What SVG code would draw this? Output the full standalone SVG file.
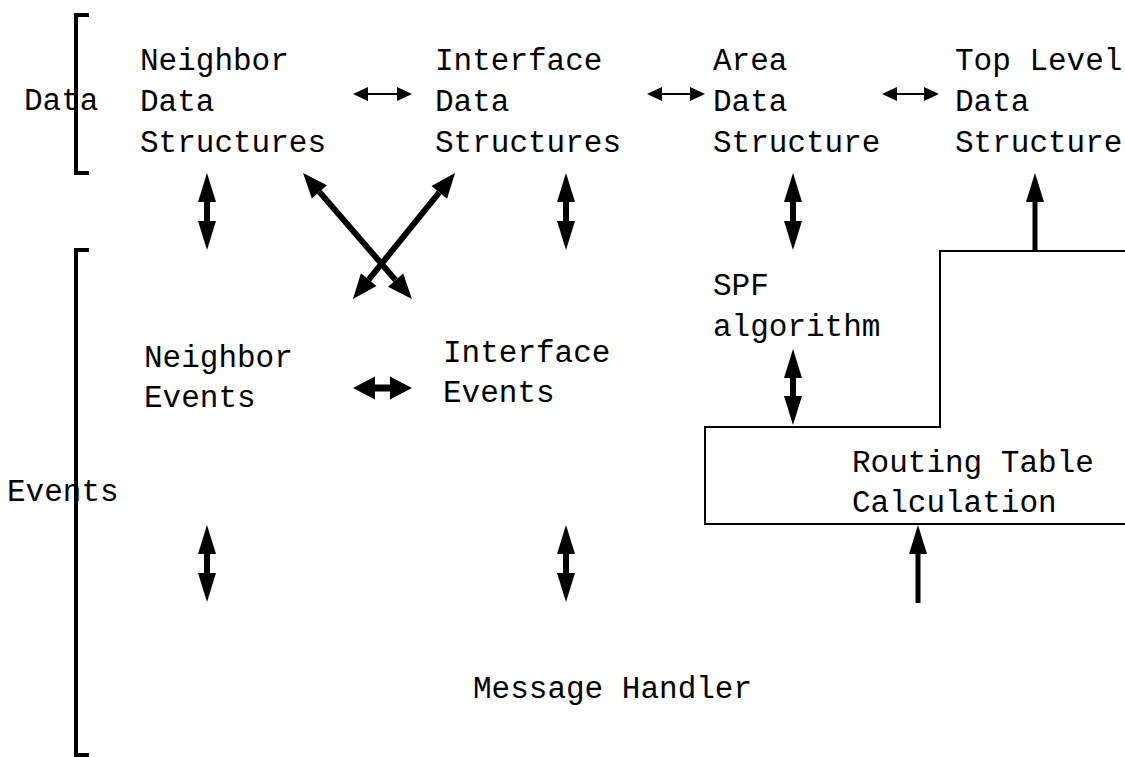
<svg xmlns="http://www.w3.org/2000/svg" width="1125" height="757" viewBox="0 0 1125 757">
  <style>
    text { font-family: "Liberation Mono", "DejaVu Sans Mono", monospace; font-size: 31px; fill: #000; }
    .bracket { fill: none; stroke: #000; stroke-width: 4; }
    .thin { stroke: #000; stroke-width: 2; marker-start: url(#headThin); marker-end: url(#headThin); }
    .thick { stroke: #000; stroke-width: 6; marker-start: url(#headBig); marker-end: url(#headBig); }
    .cross { stroke: #000; stroke-width: 6; marker-start: url(#headCross); marker-end: url(#headCross); }
    .mid { stroke: #000; stroke-width: 7; marker-start: url(#headMid); marker-end: url(#headMid); }
    .up { stroke: #000; stroke-width: 5; marker-end: url(#headBig); }
    .box { fill: none; stroke: #000; stroke-width: 2; }
  </style>
  <defs>
    <!-- arrowheads: base sits on the line end, tip points outward -->
    <marker id="headThin" markerUnits="userSpaceOnUse" markerWidth="16" markerHeight="14" refX="0" refY="7" orient="auto-start-reverse" overflow="visible">
      <path d="M0,0 L15,7 L0,14 Z" fill="#000"/>
    </marker>
    <marker id="headBig" markerUnits="userSpaceOnUse" markerWidth="30" markerHeight="18" refX="0" refY="9" orient="auto-start-reverse" overflow="visible">
      <path d="M0,0 L29,9 L0,18 Z" fill="#000"/>
    </marker>
    <marker id="headCross" markerUnits="userSpaceOnUse" markerWidth="26" markerHeight="20" refX="0" refY="10" orient="auto-start-reverse" overflow="visible">
      <path d="M0,0 L25,10 L0,20 Z" fill="#000"/>
    </marker>
    <marker id="headMid" markerUnits="userSpaceOnUse" markerWidth="23" markerHeight="23" refX="0" refY="11.5" orient="auto-start-reverse" overflow="visible">
      <path d="M0,0 L22,11.5 L0,23 Z" fill="#000"/>
    </marker>
  </defs>

  <!-- group brackets -->
  <g id="data-group">
    <path class="bracket" d="M89,15 H76 V173 H89"/>
    <text x="24" y="110">Data</text>
  </g>
  <g id="events-group">
    <path class="bracket" d="M89,250 H76 V755 H89"/>
    <text x="7" y="501">Events</text>
  </g>

  <!-- data structures -->
  <g id="neighbor-data">
    <text x="140" y="70">Neighbor</text>
    <text x="140" y="111">Data</text>
    <text x="140" y="152">Structures</text>
  </g>
  <g id="interface-data">
    <text x="435" y="70">Interface</text>
    <text x="435" y="111">Data</text>
    <text x="435" y="152">Structures</text>
  </g>
  <g id="area-data">
    <text x="713" y="70">Area</text>
    <text x="713" y="111">Data</text>
    <text x="713" y="152">Structure</text>
  </g>
  <g id="top-level-data">
    <text x="955" y="70">Top Level</text>
    <text x="955" y="111">Data</text>
    <text x="955" y="152">Structure</text>
  </g>

  <!-- processing -->
  <g id="spf">
    <text x="713" y="295">SPF</text>
    <text x="713" y="336">algorithm</text>
  </g>
  <g id="routing-table">
    <path class="box" d="M1127,251 H940 V427 H705 V524 H1127"/>
    <text x="852" y="472">Routing Table</text>
    <text x="852" y="512">Calculation</text>
  </g>
  <g id="neighbor-events">
    <text x="144" y="367">Neighbor</text>
    <text x="144" y="407">Events</text>
  </g>
  <g id="interface-events">
    <text x="443" y="362">Interface</text>
    <text x="443" y="402">Events</text>
  </g>
  <g id="message-handler">
    <text x="473" y="698">Message Handler</text>
  </g>

  <!-- connectors -->
  <g id="connectors">
    <line class="thin" x1="368" y1="94" x2="397" y2="94"/>
    <line class="thin" x1="662" y1="94" x2="690" y2="94"/>
    <line class="thin" x1="897" y1="94" x2="924" y2="94"/>

    <line class="thick" x1="207" y1="202" x2="207" y2="221"/>
    <line class="thick" x1="566" y1="202" x2="566" y2="221"/>
    <line class="thick" x1="793" y1="202" x2="793" y2="221"/>
    <line class="thick" x1="793" y1="378" x2="793" y2="396"/>
    <line class="thick" x1="207" y1="554" x2="207" y2="573"/>
    <line class="thick" x1="566" y1="554" x2="566" y2="573"/>

    <line class="cross" x1="319.4" y1="191.9" x2="395.6" y2="280.1"/>
    <line class="cross" x1="439.3" y1="192.4" x2="368.7" y2="279.6"/>

    <line class="mid" x1="375" y1="388" x2="390" y2="388"/>

    <line class="up" x1="1035" y1="251" x2="1035" y2="202"/>
    <line class="up" x1="918" y1="603" x2="918" y2="554"/>
  </g>
</svg>
